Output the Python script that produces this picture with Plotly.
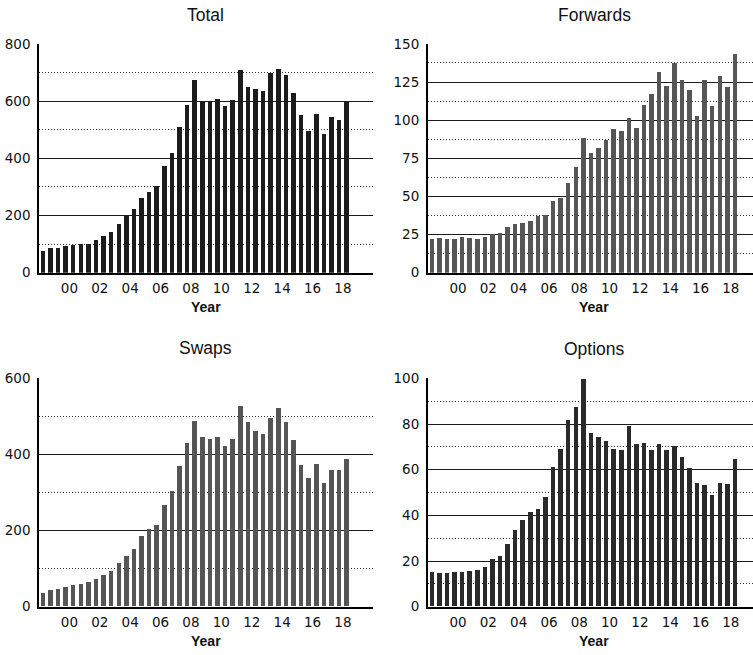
import plotly.graph_objects as go

# Half-year periods 1998H1 .. 2018H1
periods = [f"{y}H{h}" for y in range(1998, 2019) for h in (1, 2)][:41]

total = [75, 85, 85, 92, 97, 100, 102, 114, 130, 144, 172, 201, 224, 261, 284, 302,
         374, 419, 510, 586, 673, 600, 598, 606, 583, 603, 708, 649, 642, 637, 699,
         712, 692, 628, 553, 496, 555, 485, 545, 534, 599]
forwards = [22.2, 23.1, 22.0, 22.2, 23.3, 22.9, 22.0, 23.3, 25.5, 26.1, 30.3, 32.2,
            32.4, 34.2, 37.4, 38.1, 47.0, 49.2, 59.2, 69.5, 88.4, 78.6, 81.9, 86.9,
            94.3, 93.0, 101.7, 94.9, 110.0, 116.9, 131.7, 122.4, 137.8, 126.7, 120.0,
            102.8, 126.7, 109.3, 129.3, 121.7, 143.3]
swaps = [36, 44, 46, 52, 56, 59, 63, 72, 83, 94, 113, 132, 151, 185, 204, 213, 267,
         302, 368, 429, 486, 444, 439, 445, 421, 441, 527, 484, 461, 452, 494, 520,
         484, 436, 371, 337, 373, 324, 359, 357, 387]
options = [15.1, 14.6, 14.5, 15.1, 15.1, 15.4, 16.0, 17.3, 20.8, 22.1, 27.5, 33.5,
           37.6, 41.4, 42.8, 48.0, 60.8, 68.8, 81.4, 87.4, 99.6, 75.7, 74.1, 72.2,
           69.1, 68.5, 78.8, 70.9, 71.6, 68.4, 71.2, 68.4, 70.4, 65.2, 60.5, 54.2,
           53.1, 48.6, 54.2, 53.7, 64.7]

tick_years = list(range(2000, 2019, 2))
tick_labels = ["00", "02", "04", "06", "08", "10", "12", "14", "16", "18"]

titles = ["Total", "Forwards", "Swaps", "Options"]
series = [total, forwards, swaps, options]
colors = ["#1c1c1c", "#565656", "#555555", "#2a2a2a"]
y_ranges = [[0, 800], [0, 150], [0, 600], [0, 100]]
y_dticks = [200, 25, 200, 20]
x_ranges = [[1998, 2020], [1998, 2019.46], [1998, 2020], [1998, 2019.46]]

# decimal-year centre of each half-year
xpos = [int(p[:4]) + (0.25 if p.endswith("H1") else 0.75) for p in periods]

W, H = 753, 655
px = lambda v: v / W
py = lambda v: 1 - v / H

x_domains = [[px(39), px(373.3)], [px(427.7), 1.0], [px(39), px(373.3)], [px(427.7), 1.0]]
y_domains = [[py(272.7), py(43.9)], [py(272.7), py(43.9)],
             [py(606.7), py(378.4)], [py(606.7), py(378.4)]]

tick_font = dict(family="DejaVu Sans", size=13.5, color="#111111")

fig = go.Figure()
layout = dict(
    template="none",
    width=W, height=H, autosize=False,
    margin=dict(l=0, r=0, t=0, b=0, pad=0),
    paper_bgcolor="white", plot_bgcolor="white",
    showlegend=False, bargap=0,
)

for i in range(4):
    n = "" if i == 0 else str(i + 1)
    fig.add_trace(go.Bar(
        x=xpos, y=series[i], width=0.3,
        marker=dict(color=colors[i], line=dict(width=0)),
        xaxis="x" + n, yaxis="y" + n, hoverinfo="x+y",
    ))
    layout["xaxis" + n] = dict(
        domain=x_domains[i], anchor="y" + n, range=x_ranges[i],
        tickmode="array", tickvals=tick_years, ticktext=tick_labels,
        showgrid=False, zeroline=False, ticks="", automargin=False,
        showline=True, linecolor="black", linewidth=2,
        tickfont=tick_font, ticklabelstandoff=2,
    )
    layout["yaxis" + n] = dict(
        domain=y_domains[i], anchor="x" + n, range=y_ranges[i],
        dtick=y_dticks[i], tick0=0, automargin=False,
        showgrid=True, gridcolor="#1a1a1a", gridwidth=1,
        minor=dict(dtick=y_dticks[i] / 2, showgrid=True, gridcolor="#333333",
                   gridwidth=1, griddash="1px,2px", ticks=""),
        zeroline=False, ticks="",
        showline=True, linecolor="black", linewidth=1.5,
        tickfont=tick_font, ticklabelstandoff=4,
    )

fig.update_layout(**layout)

title_pos = [(206, 15), (594.5, 15), (206, 348), (594.5, 349)]
year_pos = [(206, 307), (594, 307), (206, 641), (594, 641)]
for t, (tx, ty) in zip(titles, title_pos):
    fig.add_annotation(text=t, x=px(tx), y=py(ty), xref="paper", yref="paper",
                       xanchor="center", yanchor="middle", showarrow=False,
                       font=dict(family="Liberation Sans", size=17.5, color="#111111"))
for (tx, ty) in year_pos:
    fig.add_annotation(text="<b>Year</b>", x=px(tx), y=py(ty), xref="paper", yref="paper",
                       xanchor="center", yanchor="middle", showarrow=False,
                       font=dict(family="Liberation Sans", size=14, color="#111111"))

fig.write_html("out.html",
               config={"displayModeBar": False},
               post_script="document.body.style.margin='0px';document.body.style.overflow='hidden';")
